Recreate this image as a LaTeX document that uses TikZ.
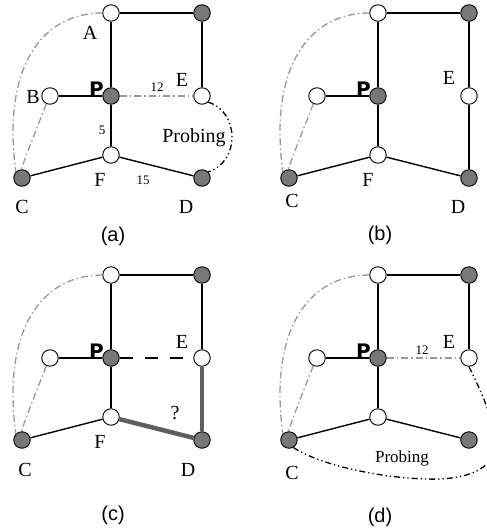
\documentclass[tikz,border=0pt]{standalone}
\usepackage{fontspec}
\setmainfont{Liberation Serif}
\setsansfont{Liberation Sans}
\newfontfamily\pfont{DejaVu Sans}
\definecolor{nodegray}{HTML}{787878}
\definecolor{curvegray}{HTML}{999999}
\definecolor{thickgray}{HTML}{5E5E5E}
\tikzset{
  wn/.style={circle,draw=black,fill=white,line width=0.9pt,minimum size=16.5pt,inner sep=0pt},
  gn/.style={wn,fill=nodegray},
  ed/.style={line width=1.4pt},
  gdd/.style={draw=curvegray,line width=1.3pt,dash pattern=on 7pt off 3pt on 1.5pt off 3pt},
  probe/.style={line width=1.3pt,dash pattern=on 6pt off 3pt on 1.3pt off 3pt on 1.3pt off 3pt},
  lab/.style={font=\fontsize{20}{20}\selectfont,inner sep=0pt},
  num/.style={font=\fontsize{13}{13}\selectfont,inner sep=0pt},
  plab/.style={font=\fontsize{20}{20}\selectfont\pfont\bfseries,inner sep=0pt},
  captxt/.style={font=\fontsize{20}{20}\selectfont\sffamily,inner sep=0pt}
}
\newcommand{\basenet}{%
  \node[wn] (A) at (111,13) {};
  \node[gn] (T) at (202,13) {};
  \node[gn] (P) at (111,96) {};
  \node[wn] (B) at (50,96) {};
  \node[wn] (E) at (202,96) {};
  \node[wn] (F) at (111,155) {};
  \node[gn] (C) at (22,178) {};
  \node[gn] (D) at (202,178) {};
  \draw[ed] (A) -- (T);
  \draw[ed] (T) -- (E);
  \draw[ed] (A) -- (P);
  \draw[ed] (B) -- (P);
  \draw[ed] (P) -- (F);
  \draw[ed] (F) -- (C);
  \draw[gdd] (A.west) .. controls (40,13) and (2,70) .. (C.north west);
  \draw[gdd] (B.245) .. controls (38,125) and (28,150) .. (C.95);
  \node[plab] (lp) at (96.5,89) {P};
}
\begin{document}
\begin{tikzpicture}[x=1pt,y=-1pt]
\useasboundingbox (0,0) rectangle (487,531);
% (a)
\begin{scope}[name prefix=a-]
  \basenet
  \draw[ed] (F) -- (D);
  \draw[gdd] (P) -- (E);
  \draw[probe] (E.south east) .. controls (240,112) and (240,162) .. (D.north east);
  \node[lab] (la) at (90,33) {A};
  \node[lab] (lb) at (33,97) {B};
  \node[num] (l12) at (157,87) {12};
  \node[lab] (le) at (182,80) {E};
  \node[num] (l5) at (102,130) {5};
  \node[lab] (lf) at (100,180) {F};
  \node[num] (l15) at (143,180) {15};
  \node[lab] (lc) at (22,207) {C};
  \node[lab] (ld) at (186,207) {D};
  \node[lab] (lpr) at (194,138) {Probing};
  \node[captxt] (cp) at (113,236) {(a)};
\end{scope}
% (b)
\begin{scope}[shift={(267,0)},name prefix=b-]
  \basenet
  \draw[ed] (F) -- (D);
  \draw[ed] (E) -- (D);
  \node[lab] (le) at (182,78) {E};
  \node[lab] (lf) at (101,180) {F};
  \node[lab] (lc) at (25,201) {C};
  \node[lab] (ld) at (191,207) {D};
  \node[captxt] (cp) at (113,235) {(b)};
\end{scope}
% (c)
\begin{scope}[shift={(0,262)},name prefix=c-]
  \basenet
  \draw[line width=1.3pt,dash pattern=on 13pt off 12pt] (P) -- (E);
  \draw[thickgray,line width=4.5pt] (E) -- (D);
  \draw[thickgray,line width=4.5pt] (F) -- (D);
  \node[lab] (le) at (182,80) {E};
  \node[lab] (lq) at (175,151) {?};
  \node[lab] (lf) at (100,180) {F};
  \node[lab] (lc) at (25,208) {C};
  \node[lab] (ld) at (188,208) {D};
  \node[captxt] (cp) at (113,253) {(c)};
\end{scope}
% (d)
\begin{scope}[shift={(267,262)},name prefix=d-]
  \basenet
  \draw[ed] (F) -- (D);
  \draw[gdd] (P) -- (E);
  \draw[probe] (E.south) .. controls (213,128) and (232,163) .. (225,193)
     .. controls (219,213) and (185,218) .. (160,217)
     .. controls (113,216) and (53,203) .. (C.-60);
  \node[num] (l12) at (155,88) {12};
  \node[lab] (le) at (182,80) {E};
  \node[lab] (lc) at (25,211) {C};
  \node[lab,font=\fontsize{17}{17}\selectfont] (lpr) at (135,196) {Probing};
  \node[captxt] (cp) at (113,255) {(d)};
\end{scope}
\end{tikzpicture}
\end{document}
